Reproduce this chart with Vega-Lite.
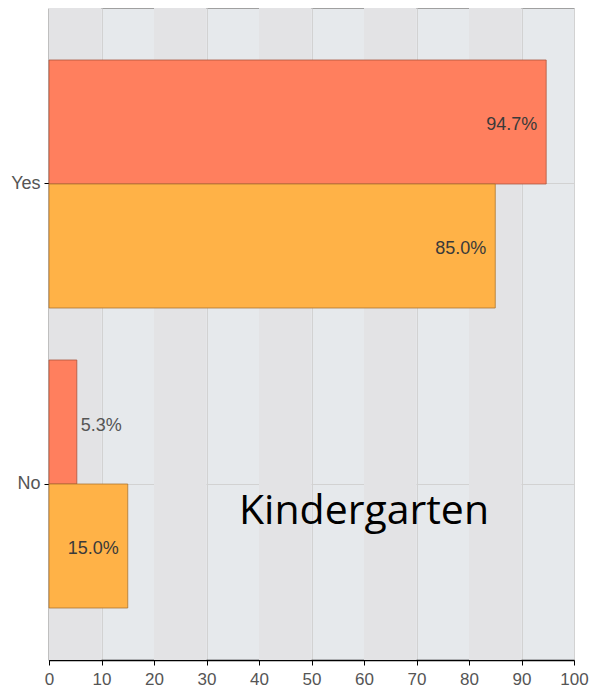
{
  "$schema": "https://vega.github.io/schema/vega-lite/v6.json",
  "autosize": "none",
  "padding": {"left": 49, "top": 8, "right": 19, "bottom": 35},
  "width": 525,
  "height": 652,
  "config": {
    "view": {"fill": "#e6e9ec", "stroke": "#a0a0a0", "strokeWidth": 1},
    "font": "Liberation Sans"
  },
  "datasets": {
    "stripes": [
      {"start": 0, "end": 10},
      {"start": 20, "end": 30},
      {"start": 40, "end": 50},
      {"start": 60, "end": 70},
      {"start": 80, "end": 90}
    ],
    "bars": [
      {"answer": "Yes", "series": "Series 1", "pct": 94.7},
      {"answer": "Yes", "series": "Series 2", "pct": 85.0},
      {"answer": "No", "series": "Series 1", "pct": 5.3},
      {"answer": "No", "series": "Series 2", "pct": 15.0}
    ],
    "note": [{"x": 60, "answer": "No", "text": "Kindergarten"}]
  },
  "layer": [
    {
      "data": {"name": "stripes"},
      "mark": {"type": "rect", "fill": "#e3e3e5"},
      "encoding": {
        "x": {"field": "start", "type": "quantitative", "scale": {"domain": [0, 100]}},
        "x2": {"field": "end"}
      }
    },
    {
      "data": {"name": "bars"},
      "mark": {"type": "bar", "strokeWidth": 1, "strokeOpacity": 0.75},
      "encoding": {
        "y": {
          "field": "answer", "type": "nominal", "sort": ["Yes", "No"],
          "scale": {"paddingInner": 0.1733, "paddingOuter": 0.1733},
          "axis": {
            "title": null, "domainColor": "#000000", "domainWidth": 1.5,
            "tickColor": "#000000", "tickSize": 5, "labelFontSize": 18,
            "labelColor": "#555555", "labelPadding": 4,
            "grid": true, "gridColor": "#d2d2d2", "gridWidth": 1
          }
        },
        "yOffset": {"field": "series", "type": "nominal", "scale": {"paddingInner": 0, "paddingOuter": 0}},
        "x": {
          "field": "pct", "type": "quantitative",
          "scale": {"domain": [0, 100], "nice": false},
          "axis": {
            "title": null, "values": [0,10,20,30,40,50,60,70,80,90,100],
            "domainColor": "#000000", "domainWidth": 1.5,
            "tickColor": "#000000", "tickSize": 5, "labelFontSize": 17,
            "labelColor": "#555555", "labelPadding": 6, "labelFlush": false,
            "grid": true, "gridColor": "#d2d2d2", "gridWidth": 1
          }
        },
        "fill": {
          "field": "series", "type": "nominal",
          "scale": {"domain": ["Series 1", "Series 2"], "range": ["#ff7f5e", "#ffb247"]},
          "legend": null
        },
        "stroke": {
          "field": "series", "type": "nominal",
          "scale": {"domain": ["Series 1", "Series 2"], "range": ["#a8523a", "#a8722c"]},
          "legend": null
        }
      }
    },
    {
      "data": {"name": "bars"},
      "transform": [
        {"filter": "datum.pct > 10"},
        {"calculate": "format(datum.pct, '.1f') + '%'", "as": "label"}
      ],
      "mark": {"type": "text", "align": "right", "baseline": "middle", "dx": -9, "dy": 3, "fontSize": 18, "color": "#3a3a3a"},
      "encoding": {
        "y": {"field": "answer", "type": "nominal", "sort": ["Yes", "No"]},
        "yOffset": {"field": "series", "type": "nominal"},
        "x": {"field": "pct", "type": "quantitative"},
        "text": {"field": "label"}
      }
    },
    {
      "data": {"name": "bars"},
      "transform": [
        {"filter": "datum.pct <= 10"},
        {"calculate": "format(datum.pct, '.1f') + '%'", "as": "label"}
      ],
      "mark": {"type": "text", "align": "left", "baseline": "middle", "dx": 4, "dy": 4, "fontSize": 18, "color": "#555555"},
      "encoding": {
        "y": {"field": "answer", "type": "nominal", "sort": ["Yes", "No"]},
        "yOffset": {"field": "series", "type": "nominal"},
        "x": {"field": "pct", "type": "quantitative"},
        "text": {"field": "label"}
      }
    },
    {
      "data": {"name": "note"},
      "mark": {"type": "text", "align": "center", "baseline": "middle", "dy": 28, "fontSize": 41, "font": "Open Sans", "color": "#000000"},
      "encoding": {
        "y": {"field": "answer", "type": "nominal", "sort": ["Yes", "No"]},
        "x": {"field": "x", "type": "quantitative"},
        "text": {"field": "text"}
      }
    }
  ]
}
